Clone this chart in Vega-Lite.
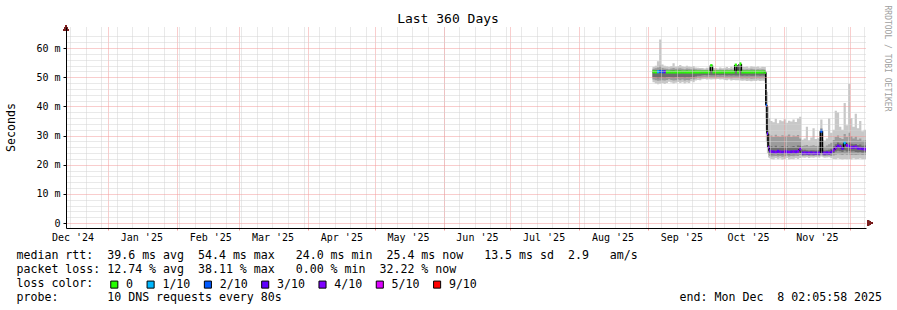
{
  "$schema": "https://vega.github.io/schema/vega-lite/v6.json",
  "width": 800,
  "height": 201,
  "autosize": {"type": "none"},
  "padding": {"left": 66, "top": 27, "right": 31, "bottom": 82},
  "background": "#ffffff",
  "title": {"text": "Last 360 Days", "font": "DejaVu Sans Mono", "fontSize": 13, "fontWeight": "normal", "color": "#000000", "anchor": "middle", "frame": "group", "dx": -18, "dy": 21, "offset": 0},
  "config": {
    "view": {"stroke": null},
    "font": "DejaVu Sans Mono",
    "axis": {"labelFont": "DejaVu Sans Mono", "titleFont": "DejaVu Sans Mono", "labelColor": "#000000", "titleColor": "#000000", "titleFontWeight": "normal"}
  },
  "data": {
    "values": [
      {"t": "2025-09-03T00:00:00", "o1": 48.3, "o2": 53.6, "m1": 49.2, "m2": 52.9, "i1": 50.0, "i2": 52.3, "med": 51.9, "loss": "0"},
      {"t": "2025-09-04T00:00:00", "o1": 47.9, "o2": 54.0, "m1": 49.0, "m2": 53.1, "i1": 49.9, "i2": 52.4, "med": 51.8, "loss": "0"},
      {"t": "2025-09-05T00:00:00", "o1": 47.6, "o2": 55.5, "m1": 48.8, "m2": 53.4, "i1": 49.7, "i2": 52.5, "med": 51.9, "loss": "1/10"},
      {"t": "2025-09-06T00:00:00", "o1": 47.8, "o2": 63.0, "m1": 48.9, "m2": 54.0, "i1": 49.8, "i2": 52.6, "med": 52.0, "loss": "2/10"},
      {"t": "2025-09-07T00:00:00", "o1": 48.0, "o2": 54.4, "m1": 49.0, "m2": 53.2, "i1": 49.9, "i2": 52.4, "med": 51.9, "loss": "2/10"},
      {"t": "2025-09-08T00:00:00", "o1": 47.7, "o2": 54.0, "m1": 48.9, "m2": 53.0, "i1": 49.8, "i2": 52.3, "med": 51.9, "loss": "3/10"},
      {"t": "2025-09-09T00:00:00", "o1": 48.0, "o2": 53.8, "m1": 49.1, "m2": 52.9, "i1": 50.0, "i2": 52.2, "med": 51.8, "loss": "0"},
      {"t": "2025-09-10T00:00:00", "o1": 48.5, "o2": 53.6, "m1": 49.3, "m2": 52.8, "i1": 50.1, "i2": 52.2, "med": 51.8, "loss": "0"},
      {"t": "2025-09-11T00:00:00", "o1": 48.2, "o2": 53.9, "m1": 49.1, "m2": 53.0, "i1": 49.9, "i2": 52.3, "med": 51.8, "loss": "0"},
      {"t": "2025-09-12T00:00:00", "o1": 47.9, "o2": 54.8, "m1": 48.9, "m2": 53.2, "i1": 49.8, "i2": 52.4, "med": 51.8, "loss": "0"},
      {"t": "2025-09-13T00:00:00", "o1": 48.1, "o2": 53.7, "m1": 49.0, "m2": 52.9, "i1": 50.0, "i2": 52.2, "med": 51.8, "loss": "0"},
      {"t": "2025-09-14T00:00:00", "o1": 48.4, "o2": 53.9, "m1": 49.2, "m2": 53.0, "i1": 50.1, "i2": 52.3, "med": 51.8, "loss": "0"},
      {"t": "2025-09-15T00:00:00", "o1": 48.0, "o2": 54.2, "m1": 49.0, "m2": 53.1, "i1": 49.9, "i2": 52.3, "med": 51.8, "loss": "0"},
      {"t": "2025-09-16T00:00:00", "o1": 48.3, "o2": 53.8, "m1": 49.2, "m2": 52.9, "i1": 50.0, "i2": 52.2, "med": 51.8, "loss": "0"},
      {"t": "2025-09-17T00:00:00", "o1": 47.9, "o2": 53.6, "m1": 48.9, "m2": 52.8, "i1": 49.8, "i2": 52.2, "med": 51.8, "loss": "0"},
      {"t": "2025-09-18T00:00:00", "o1": 48.2, "o2": 54.0, "m1": 49.1, "m2": 53.0, "i1": 50.0, "i2": 52.3, "med": 51.8, "loss": "0"},
      {"t": "2025-09-19T00:00:00", "o1": 48.0, "o2": 53.7, "m1": 49.0, "m2": 52.9, "i1": 49.9, "i2": 52.2, "med": 51.8, "loss": "0"},
      {"t": "2025-09-20T00:00:00", "o1": 48.6, "o2": 53.5, "m1": 49.4, "m2": 52.8, "i1": 50.1, "i2": 52.2, "med": 51.8, "loss": "0"},
      {"t": "2025-09-21T00:00:00", "o1": 48.3, "o2": 53.9, "m1": 49.2, "m2": 53.0, "i1": 50.0, "i2": 52.3, "med": 51.8, "loss": "0"},
      {"t": "2025-09-22T00:00:00", "o1": 48.9, "o2": 53.4, "m1": 49.6, "m2": 52.8, "i1": 50.3, "i2": 52.2, "med": 51.8, "loss": "0"},
      {"t": "2025-09-23T00:00:00", "o1": 49.1, "o2": 53.3, "m1": 49.8, "m2": 52.7, "i1": 50.5, "i2": 52.1, "med": 51.8, "loss": "0"},
      {"t": "2025-09-24T00:00:00", "o1": 49.0, "o2": 53.2, "m1": 49.7, "m2": 52.7, "i1": 50.5, "i2": 52.1, "med": 51.8, "loss": "0"},
      {"t": "2025-09-25T00:00:00", "o1": 49.3, "o2": 53.2, "m1": 49.9, "m2": 52.6, "i1": 50.7, "i2": 52.1, "med": 51.8, "loss": "0"},
      {"t": "2025-09-26T00:00:00", "o1": 49.4, "o2": 53.0, "m1": 50.0, "m2": 52.5, "i1": 50.8, "i2": 52.0, "med": 51.8, "loss": "0"},
      {"t": "2025-09-27T00:00:00", "o1": 49.2, "o2": 53.3, "m1": 49.9, "m2": 52.6, "i1": 50.7, "i2": 52.1, "med": 51.8, "loss": "0"},
      {"t": "2025-09-28T00:00:00", "o1": 49.3, "o2": 53.1, "m1": 50.0, "m2": 52.5, "i1": 50.8, "i2": 52.0, "med": 51.8, "loss": "0"},
      {"t": "2025-09-29T00:00:00", "o1": 49.2, "o2": 54.5, "m1": 49.9, "m2": 53.5, "i1": 50.7, "i2": 52.6, "med": 54.0, "loss": "0"},
      {"t": "2025-09-30T00:00:00", "o1": 49.3, "o2": 53.2, "m1": 49.9, "m2": 52.6, "i1": 50.7, "i2": 52.1, "med": 51.8, "loss": "0"},
      {"t": "2025-10-01T00:00:00", "o1": 49.3, "o2": 53.2, "m1": 49.9, "m2": 52.6, "i1": 50.7, "i2": 52.1, "med": 51.8, "loss": "0"},
      {"t": "2025-10-02T00:00:00", "o1": 49.4, "o2": 53.0, "m1": 50.0, "m2": 52.5, "i1": 50.8, "i2": 52.0, "med": 51.8, "loss": "0"},
      {"t": "2025-10-03T00:00:00", "o1": 49.2, "o2": 53.4, "m1": 49.9, "m2": 52.7, "i1": 50.7, "i2": 52.1, "med": 51.8, "loss": "0"},
      {"t": "2025-10-04T00:00:00", "o1": 49.3, "o2": 53.1, "m1": 50.0, "m2": 52.6, "i1": 50.8, "i2": 52.1, "med": 51.8, "loss": "0"},
      {"t": "2025-10-05T00:00:00", "o1": 49.1, "o2": 53.3, "m1": 49.8, "m2": 52.6, "i1": 50.7, "i2": 52.1, "med": 51.8, "loss": "0"},
      {"t": "2025-10-06T00:00:00", "o1": 49.0, "o2": 53.5, "m1": 49.8, "m2": 52.7, "i1": 50.6, "i2": 52.2, "med": 51.8, "loss": "0"},
      {"t": "2025-10-07T00:00:00", "o1": 49.2, "o2": 53.2, "m1": 49.9, "m2": 52.6, "i1": 50.7, "i2": 52.1, "med": 51.8, "loss": "0"},
      {"t": "2025-10-08T00:00:00", "o1": 48.9, "o2": 53.6, "m1": 49.7, "m2": 52.8, "i1": 50.6, "i2": 52.2, "med": 51.8, "loss": "0"},
      {"t": "2025-10-09T00:00:00", "o1": 49.1, "o2": 53.3, "m1": 49.8, "m2": 52.6, "i1": 50.7, "i2": 52.1, "med": 51.8, "loss": "0"},
      {"t": "2025-10-10T00:00:00", "o1": 49.0, "o2": 54.6, "m1": 49.8, "m2": 53.8, "i1": 50.6, "i2": 52.8, "med": 54.2, "loss": "0"},
      {"t": "2025-10-11T00:00:00", "o1": 49.0, "o2": 53.4, "m1": 49.8, "m2": 52.7, "i1": 50.6, "i2": 52.1, "med": 51.8, "loss": "0"},
      {"t": "2025-10-12T00:00:00", "o1": 48.9, "o2": 55.0, "m1": 49.7, "m2": 54.2, "i1": 50.6, "i2": 53.0, "med": 54.6, "loss": "0"},
      {"t": "2025-10-13T00:00:00", "o1": 48.8, "o2": 53.6, "m1": 49.6, "m2": 52.8, "i1": 50.5, "i2": 52.2, "med": 51.8, "loss": "0"},
      {"t": "2025-10-14T00:00:00", "o1": 48.9, "o2": 53.5, "m1": 49.7, "m2": 52.7, "i1": 50.6, "i2": 52.1, "med": 51.8, "loss": "0"},
      {"t": "2025-10-15T00:00:00", "o1": 48.7, "o2": 53.7, "m1": 49.6, "m2": 52.8, "i1": 50.5, "i2": 52.2, "med": 51.8, "loss": "0"},
      {"t": "2025-10-16T00:00:00", "o1": 48.8, "o2": 53.4, "m1": 49.7, "m2": 52.7, "i1": 50.6, "i2": 52.1, "med": 51.8, "loss": "0"},
      {"t": "2025-10-17T00:00:00", "o1": 48.6, "o2": 53.8, "m1": 49.5, "m2": 52.9, "i1": 50.5, "i2": 52.2, "med": 51.8, "loss": "0"},
      {"t": "2025-10-18T00:00:00", "o1": 48.8, "o2": 53.6, "m1": 49.6, "m2": 52.8, "i1": 50.5, "i2": 52.2, "med": 51.8, "loss": "0"},
      {"t": "2025-10-19T00:00:00", "o1": 48.7, "o2": 53.5, "m1": 49.6, "m2": 52.7, "i1": 50.6, "i2": 52.1, "med": 51.8, "loss": "0"},
      {"t": "2025-10-20T00:00:00", "o1": 48.9, "o2": 53.7, "m1": 49.7, "m2": 52.8, "i1": 50.6, "i2": 52.2, "med": 51.8, "loss": "0"},
      {"t": "2025-10-21T00:00:00", "o1": 48.7, "o2": 53.4, "m1": 49.6, "m2": 52.7, "i1": 50.5, "i2": 52.1, "med": 51.8, "loss": "0"},
      {"t": "2025-10-22T00:00:00", "o1": 48.8, "o2": 53.6, "m1": 49.7, "m2": 52.8, "i1": 50.6, "i2": 52.2, "med": 51.8, "loss": "0"},
      {"t": "2025-10-23T00:00:00", "o1": 48.7, "o2": 53.5, "m1": 49.6, "m2": 52.7, "i1": 50.5, "i2": 52.1, "med": 51.9, "loss": "0"},
      {"t": "2025-10-23T12:00:00", "o1": 48.0, "o2": 53.5, "m1": 49.5, "m2": 52.6, "i1": 50.4, "i2": 52.1, "med": 51.6, "loss": "0"},
      {"t": "2025-10-24T00:00:00", "o1": 28.0, "o2": 52.0, "m1": 32.0, "m2": 48.0, "i1": 36.0, "i2": 44.0, "med": 40.4, "loss": "2/10"},
      {"t": "2025-10-24T12:00:00", "o1": 24.0, "o2": 45.0, "m1": 26.0, "m2": 38.0, "i1": 27.5, "i2": 34.0, "med": 30.7, "loss": "3/10"},
      {"t": "2025-10-25T00:00:00", "o1": 22.5, "o2": 40.0, "m1": 23.5, "m2": 32.0, "i1": 24.5, "i2": 28.0, "med": 26.0, "loss": "4/10"},
      {"t": "2025-10-25T12:00:00", "o1": 22.2, "o2": 36.0, "m1": 23.0, "m2": 30.5, "i1": 23.8, "i2": 26.8, "med": 24.8, "loss": "3/10"},
      {"t": "2025-10-26T00:00:00", "o1": 22.0, "o2": 35.0, "m1": 22.8, "m2": 30.0, "i1": 23.5, "i2": 26.3, "med": 24.5, "loss": "4/10"},
      {"t": "2025-10-27T00:00:00", "o1": 21.8, "o2": 34.6, "m1": 22.9, "m2": 29.5, "i1": 23.6, "i2": 26.0, "med": 24.4, "loss": "3/10"},
      {"t": "2025-10-28T00:00:00", "o1": 22.2, "o2": 35.8, "m1": 23.0, "m2": 30.3, "i1": 23.7, "i2": 26.5, "med": 24.3, "loss": "4/10"},
      {"t": "2025-10-29T00:00:00", "o1": 21.9, "o2": 34.2, "m1": 22.8, "m2": 29.8, "i1": 23.5, "i2": 26.0, "med": 24.6, "loss": "3/10"},
      {"t": "2025-10-30T00:00:00", "o1": 22.1, "o2": 35.3, "m1": 23.0, "m2": 29.6, "i1": 23.6, "i2": 26.2, "med": 24.4, "loss": "4/10"},
      {"t": "2025-10-31T00:00:00", "o1": 21.7, "o2": 34.9, "m1": 22.7, "m2": 30.1, "i1": 23.5, "i2": 26.4, "med": 24.3, "loss": "3/10"},
      {"t": "2025-11-01T00:00:00", "o1": 22.0, "o2": 35.6, "m1": 22.9, "m2": 29.7, "i1": 23.7, "i2": 26.1, "med": 24.5, "loss": "4/10"},
      {"t": "2025-11-02T00:00:00", "o1": 22.3, "o2": 34.4, "m1": 23.1, "m2": 29.9, "i1": 23.6, "i2": 26.3, "med": 24.4, "loss": "3/10"},
      {"t": "2025-11-03T00:00:00", "o1": 21.8, "o2": 35.1, "m1": 22.8, "m2": 30.4, "i1": 23.5, "i2": 26.0, "med": 24.3, "loss": "4/10"},
      {"t": "2025-11-04T00:00:00", "o1": 22.0, "o2": 34.8, "m1": 23.0, "m2": 29.5, "i1": 23.7, "i2": 26.2, "med": 24.4, "loss": "3/10"},
      {"t": "2025-11-05T00:00:00", "o1": 21.9, "o2": 35.5, "m1": 22.9, "m2": 30.0, "i1": 23.6, "i2": 26.4, "med": 24.5, "loss": "4/10"},
      {"t": "2025-11-06T00:00:00", "o1": 22.2, "o2": 34.7, "m1": 23.1, "m2": 29.8, "i1": 23.7, "i2": 26.1, "med": 24.4, "loss": "3/10"},
      {"t": "2025-11-07T00:00:00", "o1": 22.0, "o2": 35.9, "m1": 23.0, "m2": 30.2, "i1": 23.8, "i2": 26.6, "med": 24.6, "loss": "4/10"},
      {"t": "2025-11-08T00:00:00", "o1": 22.3, "o2": 36.5, "m1": 23.3, "m2": 29.0, "i1": 24.0, "i2": 26.5, "med": 25.4, "loss": "4/10"},
      {"t": "2025-11-09T00:00:00", "o1": 22.5, "o2": 28.6, "m1": 23.0, "m2": 26.4, "i1": 23.5, "i2": 25.0, "med": 24.0, "loss": "3/10"},
      {"t": "2025-11-10T00:00:00", "o1": 22.4, "o2": 29.0, "m1": 23.1, "m2": 26.6, "i1": 23.5, "i2": 25.1, "med": 24.1, "loss": "4/10"},
      {"t": "2025-11-11T00:00:00", "o1": 22.6, "o2": 33.0, "m1": 23.2, "m2": 26.8, "i1": 23.6, "i2": 25.0, "med": 24.0, "loss": "3/10"},
      {"t": "2025-11-12T00:00:00", "o1": 22.3, "o2": 28.4, "m1": 23.0, "m2": 26.3, "i1": 23.5, "i2": 24.9, "med": 24.0, "loss": "4/10"},
      {"t": "2025-11-13T00:00:00", "o1": 22.5, "o2": 29.3, "m1": 23.1, "m2": 26.5, "i1": 23.6, "i2": 25.0, "med": 24.1, "loss": "3/10"},
      {"t": "2025-11-14T00:00:00", "o1": 22.4, "o2": 32.5, "m1": 23.0, "m2": 26.7, "i1": 23.5, "i2": 25.0, "med": 24.0, "loss": "4/10"},
      {"t": "2025-11-15T00:00:00", "o1": 22.6, "o2": 28.8, "m1": 23.2, "m2": 26.4, "i1": 23.6, "i2": 24.9, "med": 24.0, "loss": "3/10"},
      {"t": "2025-11-16T00:00:00", "o1": 22.5, "o2": 29.1, "m1": 23.1, "m2": 26.5, "i1": 23.5, "i2": 25.0, "med": 24.0, "loss": "4/10"},
      {"t": "2025-11-17T00:00:00", "o1": 22.4, "o2": 28.7, "m1": 23.0, "m2": 26.4, "i1": 23.5, "i2": 24.9, "med": 24.0, "loss": "3/10"},
      {"t": "2025-11-17T12:00:00", "o1": 22.8, "o2": 35.5, "m1": 23.5, "m2": 32.5, "i1": 24.5, "i2": 31.8, "med": 31.5, "loss": "2/10"},
      {"t": "2025-11-18T12:00:00", "o1": 22.6, "o2": 28.6, "m1": 23.1, "m2": 26.4, "i1": 23.6, "i2": 25.0, "med": 24.0, "loss": "3/10"},
      {"t": "2025-11-19T00:00:00", "o1": 22.4, "o2": 28.3, "m1": 23.0, "m2": 26.2, "i1": 23.5, "i2": 24.9, "med": 24.0, "loss": "4/10"},
      {"t": "2025-11-20T00:00:00", "o1": 22.5, "o2": 29.0, "m1": 23.1, "m2": 26.6, "i1": 23.6, "i2": 25.0, "med": 24.1, "loss": "3/10"},
      {"t": "2025-11-21T00:00:00", "o1": 22.6, "o2": 35.9, "m1": 23.2, "m2": 27.0, "i1": 23.6, "i2": 25.1, "med": 24.0, "loss": "4/10"},
      {"t": "2025-11-22T00:00:00", "o1": 22.2, "o2": 31.0, "m1": 23.0, "m2": 27.5, "i1": 23.6, "i2": 25.5, "med": 24.3, "loss": "3/10"},
      {"t": "2025-11-23T00:00:00", "o1": 22.0, "o2": 32.0, "m1": 23.2, "m2": 28.5, "i1": 24.0, "i2": 26.3, "med": 25.0, "loss": "4/10"},
      {"t": "2025-11-24T00:00:00", "o1": 21.9, "o2": 38.5, "m1": 23.4, "m2": 29.5, "i1": 24.5, "i2": 27.0, "med": 25.8, "loss": "4/10"},
      {"t": "2025-11-25T00:00:00", "o1": 22.1, "o2": 37.9, "m1": 23.6, "m2": 30.0, "i1": 24.8, "i2": 27.6, "med": 26.4, "loss": "3/10"},
      {"t": "2025-11-26T00:00:00", "o1": 22.0, "o2": 33.0, "m1": 23.5, "m2": 29.2, "i1": 24.6, "i2": 27.3, "med": 26.2, "loss": "4/10"},
      {"t": "2025-11-27T00:00:00", "o1": 21.8, "o2": 32.0, "m1": 23.3, "m2": 28.8, "i1": 24.4, "i2": 27.0, "med": 25.6, "loss": "3/10"},
      {"t": "2025-11-28T00:00:00", "o1": 22.0, "o2": 41.2, "m1": 23.6, "m2": 30.5, "i1": 24.9, "i2": 27.8, "med": 27.5, "loss": "1/10"},
      {"t": "2025-11-29T00:00:00", "o1": 21.9, "o2": 33.5, "m1": 23.4, "m2": 29.5, "i1": 24.5, "i2": 27.4, "med": 26.6, "loss": "4/10"},
      {"t": "2025-11-30T00:00:00", "o1": 22.0, "o2": 47.7, "m1": 23.5, "m2": 31.0, "i1": 24.7, "i2": 27.6, "med": 26.3, "loss": "3/10"},
      {"t": "2025-12-01T00:00:00", "o1": 21.8, "o2": 36.0, "m1": 23.3, "m2": 29.8, "i1": 24.5, "i2": 27.2, "med": 25.9, "loss": "4/10"},
      {"t": "2025-12-02T00:00:00", "o1": 22.1, "o2": 33.0, "m1": 23.4, "m2": 29.0, "i1": 24.6, "i2": 27.0, "med": 26.0, "loss": "3/10"},
      {"t": "2025-12-03T00:00:00", "o1": 21.9, "o2": 37.5, "m1": 23.3, "m2": 29.6, "i1": 24.4, "i2": 27.1, "med": 26.1, "loss": "4/10"},
      {"t": "2025-12-04T00:00:00", "o1": 22.0, "o2": 32.5, "m1": 23.4, "m2": 28.6, "i1": 24.3, "i2": 26.8, "med": 25.7, "loss": "3/10"},
      {"t": "2025-12-05T00:00:00", "o1": 22.1, "o2": 35.0, "m1": 23.5, "m2": 29.0, "i1": 24.4, "i2": 26.9, "med": 25.6, "loss": "4/10"},
      {"t": "2025-12-06T00:00:00", "o1": 21.9, "o2": 31.5, "m1": 23.3, "m2": 28.2, "i1": 24.2, "i2": 26.5, "med": 25.5, "loss": "3/10"},
      {"t": "2025-12-07T00:00:00", "o1": 22.0, "o2": 32.0, "m1": 23.4, "m2": 28.4, "i1": 24.3, "i2": 26.6, "med": 25.4, "loss": "4/10"},
      {"t": "2025-12-08T02:05:58", "o1": 22.0, "o2": 32.0, "m1": 23.4, "m2": 28.4, "i1": 24.3, "i2": 26.6, "med": 25.4, "loss": "4/10"}
    ],
    "format": {"parse": {"t": "date"}}
  },
  "layer": [
    {
      "mark": {"type": "area", "interpolate": "step-after", "color": "#c8c8c8"},
      "encoding": {
        "x": {"field": "t", "type": "temporal",
          "scale": {"domain": [{"year": 2024, "month": 12, "date": 13, "hours": 2, "minutes": 5, "seconds": 58}, {"year": 2025, "month": 12, "date": 8, "hours": 2, "minutes": 5, "seconds": 58}], "nice": false},
          "axis": {"orient": "bottom",
            "values": [{"year": 2024, "month": 12, "date": 15}, {"year": 2024, "month": 12, "date": 22}, {"year": 2024, "month": 12, "date": 29}, {"year": 2025, "month": 1, "date": 5}, {"year": 2025, "month": 1, "date": 12}, {"year": 2025, "month": 1, "date": 19}, {"year": 2025, "month": 1, "date": 26}, {"year": 2025, "month": 2, "date": 2}, {"year": 2025, "month": 2, "date": 9}, {"year": 2025, "month": 2, "date": 16}, {"year": 2025, "month": 2, "date": 23}, {"year": 2025, "month": 3, "date": 2}, {"year": 2025, "month": 3, "date": 9}, {"year": 2025, "month": 3, "date": 16}, {"year": 2025, "month": 3, "date": 23}, {"year": 2025, "month": 3, "date": 30}, {"year": 2025, "month": 4, "date": 6}, {"year": 2025, "month": 4, "date": 13}, {"year": 2025, "month": 4, "date": 20}, {"year": 2025, "month": 4, "date": 27}, {"year": 2025, "month": 5, "date": 4}, {"year": 2025, "month": 5, "date": 11}, {"year": 2025, "month": 5, "date": 18}, {"year": 2025, "month": 5, "date": 25}, {"year": 2025, "month": 6, "date": 1}, {"year": 2025, "month": 6, "date": 8}, {"year": 2025, "month": 6, "date": 15}, {"year": 2025, "month": 6, "date": 22}, {"year": 2025, "month": 6, "date": 29}, {"year": 2025, "month": 7, "date": 6}, {"year": 2025, "month": 7, "date": 13}, {"year": 2025, "month": 7, "date": 20}, {"year": 2025, "month": 7, "date": 27}, {"year": 2025, "month": 8, "date": 3}, {"year": 2025, "month": 8, "date": 10}, {"year": 2025, "month": 8, "date": 17}, {"year": 2025, "month": 8, "date": 24}, {"year": 2025, "month": 8, "date": 31}, {"year": 2025, "month": 9, "date": 7}, {"year": 2025, "month": 9, "date": 14}, {"year": 2025, "month": 9, "date": 21}, {"year": 2025, "month": 9, "date": 28}, {"year": 2025, "month": 10, "date": 5}, {"year": 2025, "month": 10, "date": 12}, {"year": 2025, "month": 10, "date": 19}, {"year": 2025, "month": 10, "date": 26}, {"year": 2025, "month": 11, "date": 2}, {"year": 2025, "month": 11, "date": 9}, {"year": 2025, "month": 11, "date": 16}, {"year": 2025, "month": 11, "date": 23}, {"year": 2025, "month": 11, "date": 30}, {"year": 2025, "month": 12, "date": 7}],
            "grid": true, "gridColor": "#d2d2d2", "gridDash": [1, 1], "labels": false, "ticks": false, "domain": false, "title": null, "zindex": 1}},
        "y": {"field": "o1", "type": "quantitative",
          "scale": {"domain": [0, 65.54], "nice": false, "zero": false},
          "axis": {"orient": "left", "values": [2, 4, 6, 8, 12, 14, 16, 18, 22, 24, 26, 28, 32, 34, 36, 38, 42, 44, 46, 48, 52, 54, 56, 58, 62, 64], "grid": true, "gridColor": "#d2d2d2", "gridDash": [1, 1], "labels": false, "ticks": false, "domain": false, "title": null, "zindex": 1}},
        "y2": {"field": "o2"}
      }
    },
    {
      "mark": {"type": "area", "interpolate": "step-after", "color": "#9c9c9c"},
      "encoding": {
        "x": {"field": "t", "type": "temporal",
          "scale": {"domain": [{"year": 2024, "month": 12, "date": 13, "hours": 2, "minutes": 5, "seconds": 58}, {"year": 2025, "month": 12, "date": 8, "hours": 2, "minutes": 5, "seconds": 58}], "nice": false},
          "axis": {"orient": "bottom",
            "values": [{"year": 2025, "month": 1, "date": 1}, {"year": 2025, "month": 2, "date": 1}, {"year": 2025, "month": 3, "date": 1}, {"year": 2025, "month": 4, "date": 1}, {"year": 2025, "month": 5, "date": 1}, {"year": 2025, "month": 6, "date": 1}, {"year": 2025, "month": 7, "date": 1}, {"year": 2025, "month": 8, "date": 1}, {"year": 2025, "month": 9, "date": 1}, {"year": 2025, "month": 10, "date": 1}, {"year": 2025, "month": 11, "date": 1}, {"year": 2025, "month": 12, "date": 1}],
            "grid": true, "gridColor": "#f29a9a", "gridDash": [1, 1], "labels": false, "ticks": true, "tickSize": 2, "tickColor": "#f29a9a", "domain": false, "title": null, "zindex": 1}},
        "y": {"field": "m1", "type": "quantitative",
          "scale": {"domain": [0, 65.54], "nice": false, "zero": false},
          "axis": {"orient": "left", "values": [0, 10, 20, 30, 40, 50, 60], "grid": true, "gridColor": "#f29a9a", "gridDash": [1, 1],
            "labelExpr": "datum.value == 0 ? '0\u00a0\u00a0' : datum.value + ' m'", "labelFontSize": 10, "labelPadding": 3,
            "ticks": true, "tickSize": 3, "tickColor": "#000000", "domain": true, "domainColor": "#000000",
            "title": "Seconds", "titleFontSize": 11.6, "titleX": -55, "titleY": 100, "titleAngle": 270, "titleAlign": "center", "titleBaseline": "middle", "zindex": 1}},
        "y2": {"field": "m2"}
      }
    },
    {
      "mark": {"type": "area", "interpolate": "step-after", "color": "#6e6e6e"},
      "encoding": {
        "x": {"field": "t", "type": "temporal",
          "scale": {"domain": [{"year": 2024, "month": 12, "date": 13, "hours": 2, "minutes": 5, "seconds": 58}, {"year": 2025, "month": 12, "date": 8, "hours": 2, "minutes": 5, "seconds": 58}], "nice": false},
          "axis": {"orient": "bottom",
            "values": [{"year": 2024, "month": 12, "date": 16}, {"year": 2025, "month": 1, "date": 16}, {"year": 2025, "month": 2, "date": 16}, {"year": 2025, "month": 3, "date": 16}, {"year": 2025, "month": 4, "date": 16}, {"year": 2025, "month": 5, "date": 16}, {"year": 2025, "month": 6, "date": 16}, {"year": 2025, "month": 7, "date": 16}, {"year": 2025, "month": 8, "date": 16}, {"year": 2025, "month": 9, "date": 16}, {"year": 2025, "month": 10, "date": 16}, {"year": 2025, "month": 11, "date": 16}],
            "format": "%b '%y", "grid": false, "ticks": false, "labelPadding": 4, "labelFontSize": 10, "labelFlush": false, "labelOverlap": false,
            "domain": true, "domainColor": "#000000",
            "title": [
              "median rtt:\u00a0\u00a039.6 ms avg\u00a0\u00a054.4 ms max\u00a0\u00a0\u00a024.0 ms min\u00a0\u00a025.4 ms now\u00a0\u00a0\u00a013.5 ms sd\u00a0\u00a02.9\u00a0\u00a0\u00a0am/s",
              "packet loss: 12.74 % avg\u00a0\u00a038.11 % max\u00a0\u00a0\u00a00.00 % min\u00a0\u00a032.22 % now",
              "loss color:",
              "probe:\u00a0\u00a0\u00a0\u00a0\u00a0\u00a0\u00a010 DNS requests every 80s\u00a0\u00a0\u00a0\u00a0\u00a0\u00a0\u00a0\u00a0\u00a0\u00a0\u00a0\u00a0\u00a0\u00a0\u00a0\u00a0\u00a0\u00a0\u00a0\u00a0\u00a0\u00a0\u00a0\u00a0\u00a0\u00a0\u00a0\u00a0\u00a0\u00a0\u00a0\u00a0\u00a0\u00a0\u00a0\u00a0\u00a0\u00a0\u00a0\u00a0\u00a0\u00a0\u00a0\u00a0\u00a0\u00a0\u00a0\u00a0\u00a0\u00a0\u00a0\u00a0\u00a0\u00a0\u00a0\u00a0\u00a0end: Mon Dec\u00a0\u00a08 02:05:58 2025"
            ],
            "titleFontSize": 11.6, "titleAlign": "left", "titleAnchor": "start", "titleBaseline": "alphabetic", "titleX": -50, "titleY": 30, "titleLineHeight": 14, "zindex": 1}},
        "y": {"field": "i1", "type": "quantitative",
          "scale": {"domain": [0, 65.54], "nice": false, "zero": false},
          "axis": {"orient": "right", "labels": false, "ticks": false, "domain": false, "grid": false,
            "title": "RRDTOOL / TOBI OETIKER", "titleAngle": 90, "titleFontSize": 8, "titleColor": "#a0a0a0", "titleX": 20, "titleY": -22, "titleAlign": "left", "titleBaseline": "middle", "zindex": 1}},
        "y2": {"field": "i2"}
      }
    },
    {
      "transform": [
        {"window": [{"op": "lag", "field": "med", "as": "pm"}], "sort": [{"field": "t", "order": "ascending"}]},
        {"filter": "datum.pm != null"}
      ],
      "mark": {"type": "rule", "color": "#000000", "strokeWidth": 1.5},
      "encoding": {
        "x": {"field": "t", "type": "temporal",
          "scale": {"domain": [{"year": 2024, "month": 12, "date": 13, "hours": 2, "minutes": 5, "seconds": 58}, {"year": 2025, "month": 12, "date": 8, "hours": 2, "minutes": 5, "seconds": 58}], "nice": false}, "axis": null},
        "y": {"field": "pm", "type": "quantitative", "scale": {"domain": [0, 65.54], "nice": false, "zero": false}, "axis": null},
        "y2": {"field": "med"}
      }
    },
    {
      "transform": [
        {"window": [{"op": "lead", "field": "t", "as": "t2"}], "sort": [{"field": "t", "order": "ascending"}]},
        {"filter": "datum.t2 != null"}
      ],
      "mark": {"type": "bar", "size": 3},
      "encoding": {
        "x": {"field": "t", "type": "temporal",
          "scale": {"domain": [{"year": 2024, "month": 12, "date": 13, "hours": 2, "minutes": 5, "seconds": 58}, {"year": 2025, "month": 12, "date": 8, "hours": 2, "minutes": 5, "seconds": 58}], "nice": false}, "axis": null},
        "x2": {"field": "t2"},
        "y": {"field": "med", "type": "quantitative", "scale": {"domain": [0, 65.54], "nice": false, "zero": false}, "axis": null},
        "color": {"field": "loss", "type": "nominal",
          "scale": {"domain": ["0", "1/10", "2/10", "3/10", "4/10", "5/10", "9/10"], "range": ["#26ff00", "#00b8ff", "#0059ff", "#5e00ff", "#7e00ff", "#dd00ff", "#ff0000"]},
          "legend": {"orient": "none", "legendX": 42.5, "legendY": 251.5, "direction": "horizontal", "title": null, "symbolType": "square", "symbolSize": 50, "symbolStrokeColor": "#000000", "symbolStrokeWidth": 1, "symbolOpacity": 1, "labelFont": "DejaVu Sans Mono", "labelFontSize": 11.6, "labelColor": "#000000", "labelOffset": 6, "columnPadding": 11.3, "padding": 0}}
      }
    },
    {
      "mark": {"type": "point", "shape": "triangle-up", "filled": true, "color": "#7a1f1f", "size": 36, "opacity": 1},
      "encoding": {
        "x": {"datum": {"year": 2024, "month": 12, "date": 13, "hours": 2, "minutes": 5, "seconds": 58}, "type": "temporal",
          "scale": {"domain": [{"year": 2024, "month": 12, "date": 13, "hours": 2, "minutes": 5, "seconds": 58}, {"year": 2025, "month": 12, "date": 8, "hours": 2, "minutes": 5, "seconds": 58}], "nice": false}, "axis": null},
        "y": {"datum": 66.85, "type": "quantitative", "scale": {"domain": [0, 65.54], "nice": false, "zero": false}, "axis": null}
      }
    },
    {
      "mark": {"type": "point", "shape": "triangle-right", "filled": true, "color": "#7a1f1f", "size": 36, "opacity": 1},
      "encoding": {
        "x": {"datum": {"year": 2025, "month": 12, "date": 9, "hours": 21, "minutes": 0, "seconds": 0}, "type": "temporal",
          "scale": {"domain": [{"year": 2024, "month": 12, "date": 13, "hours": 2, "minutes": 5, "seconds": 58}, {"year": 2025, "month": 12, "date": 8, "hours": 2, "minutes": 5, "seconds": 58}], "nice": false}, "axis": null},
        "y": {"datum": 0, "type": "quantitative", "scale": {"domain": [0, 65.54], "nice": false, "zero": false}, "axis": null}
      }
    }
  ],
  "resolve": {"axis": {"x": "independent", "y": "independent"}}
}
